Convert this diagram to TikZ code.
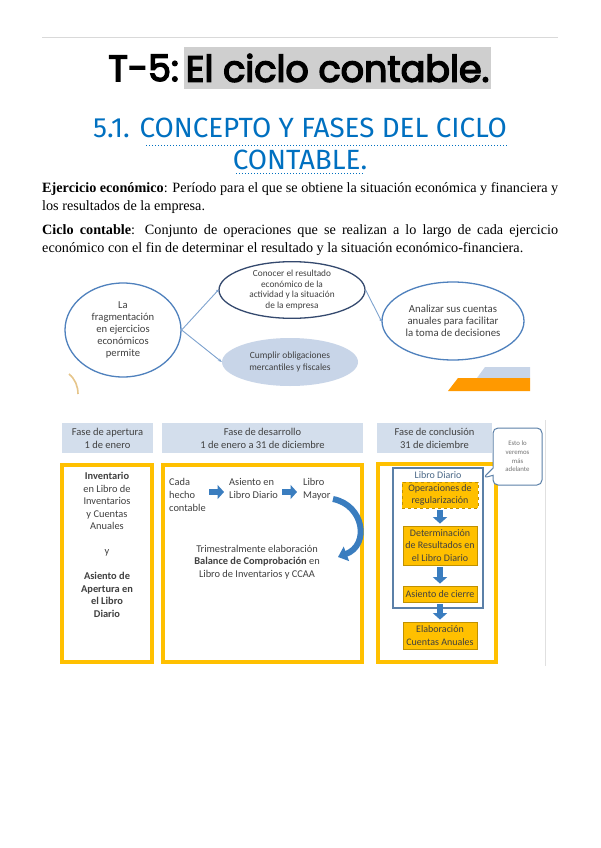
\documentclass[tikz,border=0pt]{standalone}
\usepackage{fontspec}
\setmainfont{Liberation Serif}
\newfontfamily\calib{Carlito}
\newfontface\titlef{Poppins}[FakeBold=4]
\newfontfamily\subf{Fira Sans}
\usetikzlibrary{arrows.meta,shapes.geometric,shapes.callouts}
\definecolor{hdr}{HTML}{D3DEEC}
\definecolor{ylw}{HTML}{FFC000}
\definecolor{oboxline}{HTML}{C09100}
\definecolor{arrowblue}{HTML}{3A7DBF}
\definecolor{subblue}{HTML}{0070C0}
\definecolor{ellblue}{HTML}{4F81BD}
\definecolor{darkell}{HTML}{34496E}
\definecolor{lightell}{HTML}{C8D5E8}
\definecolor{conn}{HTML}{7EA3CF}
\definecolor{txtg}{HTML}{404040}
\definecolor{hl}{HTML}{CFCFCF}
\definecolor{tan}{HTML}{E6C58A}
\definecolor{ldline}{HTML}{5B80A8}
\tikzset{
  dtext/.style={font=\calib\fontsize{10.4}{12.5}\selectfont, text=txtg, align=center, inner sep=0pt},
  ell/.style={shape=ellipse, inner sep=0pt, align=center, text=txtg},
  hdrbox/.style={fill=hdr, draw=none, inner sep=0pt, align=center, text=txtg, font=\calib\fontsize{10.5}{12.8}\selectfont},
  ybox/.style={draw=ylw, line width=3.5pt, inner sep=0pt},
  obox/.style={fill=ylw, draw=oboxline, line width=0.8pt, inner sep=0pt, align=center, text=txtg, font=\calib\fontsize{10}{12.3}\selectfont, minimum width=74pt},
  blockarrow/.style={draw=arrowblue, line width=6.5pt, -{Triangle[length=6.5pt,width=14pt]}},
  connline/.style={draw=conn, line width=0.9pt},
  ptext/.style={font=\fontsize{14.2}{17}\selectfont, inner sep=0pt, anchor=west},
}
\begin{document}
\begin{tikzpicture}[x=1pt,y=-1pt]
\useasboundingbox (0,0) rectangle (600,848);
\fill[white] (0,0) rectangle (600,848);
% top rule
\draw[color=black!15, line width=0.8pt] (42,37) -- (558,37);
% title
\node[fill=hl, inner xsep=1.5pt, minimum height=42pt, anchor=west, font=\titlef\fontsize{36.5}{40}\selectfont] (t2) at (184,68) {El ciclo contable.};
\node[anchor=east, inner xsep=5pt, font=\titlef\fontsize{36.5}{40}\selectfont] (t1) at (t2.west) {T-5:};
% subtitle
\node[anchor=west, inner sep=0pt, text=subblue, font=\subf\fontsize{27.8}{30}\selectfont] (s1) at (93,128) {5.1. CONCEPTO Y FASES DEL CICLO};
\node[anchor=center, inner sep=0pt, text=subblue, font=\subf\fontsize{27.8}{30}\selectfont] (s2) at (300,160) {CONTABLE.};
\draw[subblue, dotted, line width=1pt] (146,145) -- (507,145);
\draw[subblue, dotted, line width=1pt] (236,173) -- (364,173);
% paragraphs
\node[ptext] (p1) at (42,189) {\makebox[516pt][s]{\textbf{Ejercicio económico}: Período para el que se obtiene la situación económica y financiera y}};
\node[ptext] (p2) at (42,207) {los resultados de la empresa.};
\node[ptext] (p3) at (42,231) {\makebox[516pt][s]{\textbf{Ciclo contable}: Conjunto de operaciones que se realizan a lo largo de cada ejercicio}};
\node[ptext] (p4) at (42,249) {económico con el fin de determinar el resultado y la situación económico-financiera.};
% top diagram
\node[ell, draw=ellblue, line width=1.3pt, minimum width=116pt, minimum height=94pt, font=\calib\fontsize{10.6}{11.8}\selectfont] (frag) at (123,330) {La\\fragmentación\\en ejercicios\\económicos\\permite};
\node[ell, draw=darkell, line width=1.3pt, minimum width=146pt, minimum height=56pt, font=\calib\fontsize{9.3}{10.7}\selectfont] (con) at (292,290) {Conocer el resultado\\económico de la\\actividad y la situación\\de la empresa};
\node[ell, fill=lightell, minimum width=136pt, minimum height=48pt, font=\calib\fontsize{9.5}{12}\selectfont] (cum) at (290,362) {Cumplir obligaciones\\mercantiles y fiscales};
\node[ell, draw=ellblue, line width=1.3pt, minimum width=142pt, minimum height=78pt, font=\calib\fontsize{10.8}{12.2}\selectfont] (ana) at (453,321) {Analizar sus cuentas\\anuales para facilitar\\la toma de decisiones};
\draw[connline, -{Circle[length=2.5pt]}] (frag.east) -- (con.west);
\draw[connline, -{Stealth[length=4pt]}] (frag.east) -- (cum.west);
\draw[connline, -{Circle[length=2.5pt]}] (con.east) -- (ana.west);
% decorations
\draw[tan, line width=1.6pt] (69,374) .. controls (75,379) and (78,386) .. (78,394);
\fill[lightell] (485,367) -- (530,367) -- (530,378) -- (477,378) -- cycle;
\fill[color=orange!80!yellow] (458,378) -- (530,378) -- (530,391) -- (448,391) -- cycle;
% bottom diagram headers
\node[hdrbox, minimum width=91pt, minimum height=30pt] (h1) at (107.5,438) {Fase de apertura\\1 de enero};
\node[hdrbox, minimum width=201pt, minimum height=30pt] (h2) at (262.5,438) {Fase de desarrollo\\1 de enero a 31 de diciembre};
\node[hdrbox, minimum width=115pt, minimum height=30pt] (h3) at (434.5,438) {Fase de conclusión\\31 de diciembre};
% yellow frames
\node[ybox, minimum width=90pt, minimum height=197pt] (y1) at (107,563.5) {};
\node[ybox, minimum width=199pt, minimum height=197pt] (y2) at (262.5,563.5) {};
\node[ybox, minimum width=118pt, minimum height=198pt] (y3) at (437,563) {};
% box 1 text
\node[dtext, font=\calib\fontsize{10.4}{12.5}\selectfont, anchor=north] (b1) at (107,472) {\textbf{Inventario}\\en Libro de\\Inventarios\\y Cuentas\\Anuales\\[12.5pt]y\\[12.5pt]\textbf{Asiento de}\\\textbf{Apertura en}\\\textbf{el Libro}\\\textbf{Diario}};
% box 2
\node[dtext, font=\calib\fontsize{10.4}{13}\selectfont, align=left, anchor=north west] (cada) at (169,478) {Cada\\hecho\\contable};
\node[dtext, font=\calib\fontsize{10.4}{13}\selectfont, align=left, anchor=north west] (asi) at (229,478) {Asiento en\\Libro Diario};
\node[dtext, font=\calib\fontsize{10.4}{13}\selectfont, align=left, anchor=north west] (may) at (303,478) {Libro\\Mayor};
\coordinate (a1s) at (209,492);
\coordinate (a1e) at (224,492);
\coordinate (a2s) at (282,492);
\coordinate (a2e) at (297,492);
\draw[blockarrow] (a1s) -- (a1e);
\draw[blockarrow] (a2s) -- (a2e);
\node[dtext, font=\calib\fontsize{10.4}{12.5}\selectfont] (trim) at (257,562) {Trimestralmente elaboración\\\textbf{Balance de Comprobación} en\\Libro de Inventarios y CCAA};
\coordinate (cs) at (333,499);
\coordinate (ce) at (338,557);
\draw[arrowblue, line width=6pt, -{Triangle[length=9pt,width=15pt]}] (cs) .. controls (364,505) and (370,545) .. (ce);
% box 3
\node[draw=ldline, line width=1.2pt, minimum width=90pt, minimum height=140pt, inner sep=0pt] (ld) at (438,538) {};
\node[dtext, text=ldline!80!black, font=\calib\fontsize{10}{11}\selectfont] (ldl) at (438,475) {Libro Diario};
\node[obox, dashed, minimum width=76pt, minimum height=26pt] (op) at (440,495) {Operaciones de\\regularización};
\node[obox, minimum height=39pt] (det) at (440,545.5) {Determinación\\de Resultados en\\el Libro Diario};
\node[obox, minimum height=16pt] (cie) at (440,594) {Asiento de cierre};
\node[obox, minimum height=27pt] (ela) at (440,635.5) {Elaboración\\Cuentas Anuales};
\draw[blockarrow, shorten <=2pt, shorten >=2pt] (op.south) -- (det.north);
\draw[blockarrow, shorten <=2pt, shorten >=2pt] (det.south) -- (cie.north);
\draw[blockarrow, shorten <=2pt, shorten >=2pt] (cie.south) -- (ela.north);
\node[rectangle callout, rounded corners=5pt, draw=ldline, line width=1pt, fill=white, minimum width=49pt, minimum height=57pt, inner sep=0pt, align=center, text=black!55, font=\calib\fontsize{6.8}{8.6}\selectfont, callout absolute pointer={(483,478)}] (call) at (517.5,456.5) {Esto lo\\veremos\\más\\adelante};
\draw[black!12, line width=1pt] (545,420) -- (545,666);
\end{tikzpicture}
\end{document}
